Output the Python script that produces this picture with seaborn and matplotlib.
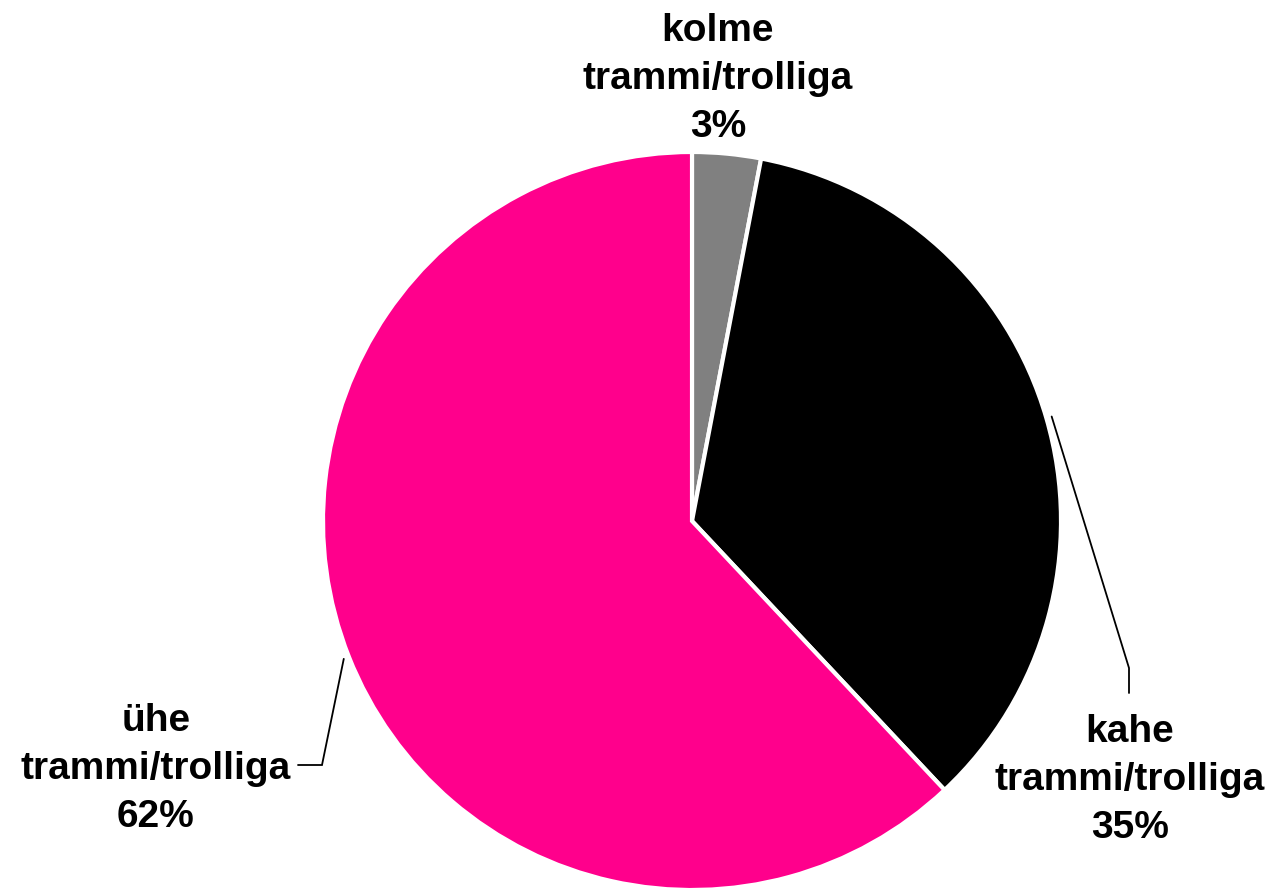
import numpy as np
import matplotlib
matplotlib.use("Agg")
import matplotlib.pyplot as plt
import seaborn as sns

# Share of vehicles by number of trams/trolleybuses
categories = ["kolme\ntrammi/trolliga", "kahe\ntrammi/trolliga", "ühe\ntrammi/trolliga"]
values = [3, 35, 62]
colors = ["#808080", "#000000", "#FF008C"]

sns.set_theme(style="white")
plt.rcParams["font.family"] = ["Liberation Sans", "DejaVu Sans"]

W, H, DPI = 1272, 893, 100
fig = plt.figure(figsize=(W / DPI, H / DPI), dpi=DPI)
ax = fig.add_axes([0, 0, 1, 1])

# pie centre and radius in pixels, converted to data limits (radius = 1)
cx, cy, R = 692, 521, 369

wedges, _ = ax.pie(values, colors=colors, startangle=90, counterclock=False,
                   radius=1.0, center=(0, 0), frame=True,
                   wedgeprops=dict(edgecolor="white", linewidth=3))
ax.set_xlim(-cx / R, (W - cx) / R)
ax.set_ylim(-(H - cy) / R, cy / R)
ax.set_aspect("auto")
ax.axis("off")

def px(x, y):
    return (x - cx) / R, (cy - y) / R

# label anchors (centre x, last-line baseline) and leader line elbows
label_pos = [px(718, 137), px(1130, 838), px(156, 827)]
leaders = [None,
           [px(1129, 668), px(1129, 693)],
           [px(322, 765), px(298, 765)]]

for w, cat, v, pos, lead in zip(wedges, categories, values, label_pos, leaders):
    ax.text(pos[0], pos[1], f"{cat}\n{v}%", ha="center", va="baseline",
            multialignment="center", fontsize=28, fontweight="bold",
            color="black", linespacing=1.42)
    if lead is not None:
        mid = np.deg2rad((w.theta1 + w.theta2) / 2)
        start = (1.015 * np.cos(mid), 1.015 * np.sin(mid))
        xs = [start[0]] + [p[0] for p in lead]
        ys = [start[1]] + [p[1] for p in lead]
        ax.plot(xs, ys, color="black", linewidth=1.3, solid_joinstyle="miter")

fig.savefig("out.png", dpi=DPI, facecolor="white")
